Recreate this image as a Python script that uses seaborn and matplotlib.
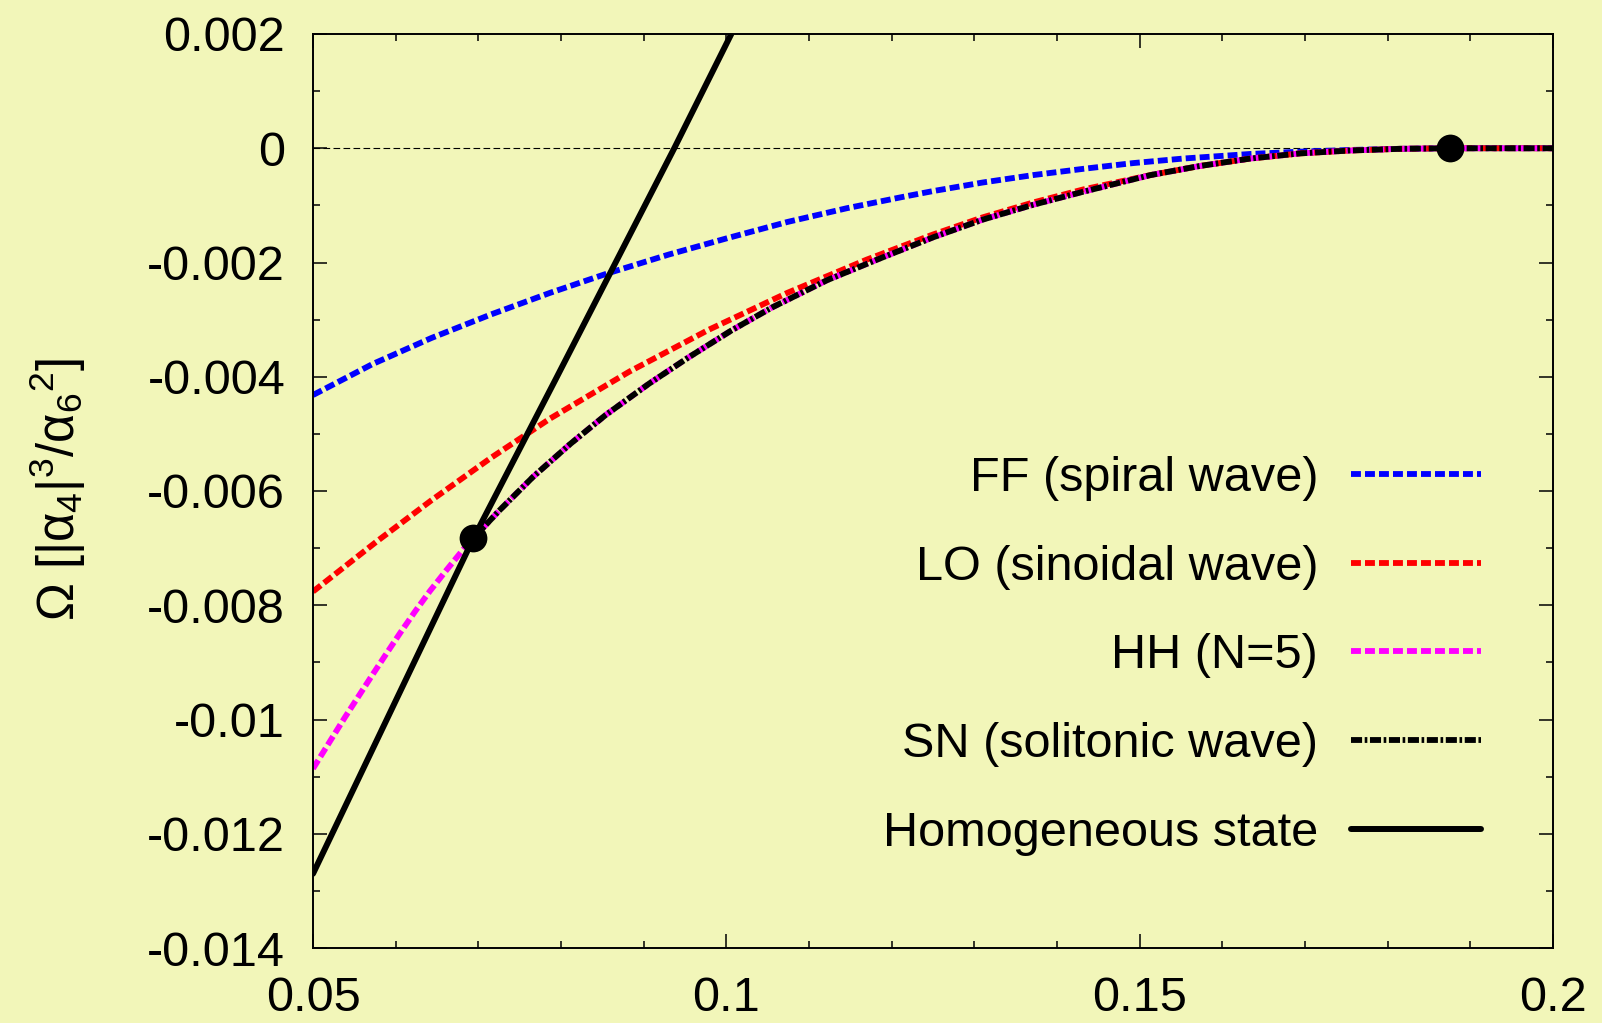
import numpy as np
import pandas as pd
import matplotlib
matplotlib.use("Agg")
import matplotlib.pyplot as plt
import seaborn as sns
from matplotlib.ticker import MultipleLocator, FuncFormatter

# ---------------- data ----------------
ff_x = [0.05, 0.05717, 0.06435, 0.07152, 0.0787, 0.08564, 0.09305, 0.10022, 0.1074,
        0.11457, 0.12175, 0.125, 0.131, 0.1371, 0.1432, 0.1492, 0.1553, 0.1634,
        0.1694, 0.1754, 0.1815, 0.1875, 0.2]
ff_y = [-0.00432, -0.00378, -0.00332, -0.00291, -0.00253, -0.00219, -0.00186, -0.00157, -0.00129,
        -0.00105, -0.00084, -0.00075, -0.0006, -0.00047, -0.00036, -0.00026, -0.00018, -0.0001,
        -0.00006, -0.00003, -0.00001, 0.0, 0.0]

lo_x = [0.05, 0.05765, 0.06435, 0.07152, 0.0787, 0.08827, 0.09783, 0.1074, 0.11697,
        0.125, 0.131, 0.1371, 0.1432, 0.1513, 0.1573, 0.1634, 0.1694, 0.1754, 0.1815,
        0.1875, 0.2]
lo_y = [-0.00776, -0.00689, -0.00616, -0.00542, -0.00473, -0.00391, -0.00318, -0.00253, -0.00195,
        -0.00151, -0.00121, -0.00095, -0.00072, -0.00047, -0.00031, -0.00018, -0.00009, -0.00004,
        -0.00001, 0.0, 0.0]

sn_x = [0.06937, 0.07248, 0.07664, 0.08109, 0.0854, 0.09066, 0.09544, 0.10061, 0.10549,
        0.11218, 0.1184, 0.125, 0.131, 0.1371, 0.1432, 0.1513, 0.1573, 0.1634, 0.1694,
        0.1754, 0.1815, 0.1875, 0.2]
sn_y = [-0.00683, -0.00635, -0.00575, -0.00518, -0.00467, -0.00412, -0.00366, -0.00319, -0.00279,
        -0.00231, -0.00194, -0.00156, -0.00125, -0.00099, -0.00076, -0.00047, -0.00031, -0.00018,
        -0.00009, -0.00004, -0.00001, 0.0, 0.0]

hh_x = [0.05, 0.05206, 0.05387, 0.05548, 0.05709, 0.05891, 0.06052, 0.06234, 0.06415,
        0.06617, 0.06819] + sn_x
hh_y = [-0.01086, -0.01038, -0.00996, -0.0096, -0.00924, -0.00884, -0.00849, -0.00811, -0.00775,
        -0.00738, -0.00702] + sn_y

hom_x = [0.05, 0.0694, 0.0793, 0.0937, 0.1006]
hom_y = [-0.0127, -0.00683, -0.00406, 0.0, 0.002]

dot_x = [0.06937, 0.1875]
dot_y = [-0.00683, 0.0]

labels = ["FF (spiral wave)", "LO (sinoidal wave)", "HH (N=5)",
          "SN (solitonic wave)", "Homogeneous state"]

# ---------------- style ----------------
BG = "#f2f6b9"
sns.set_theme(style="ticks")
plt.rcParams["font.family"] = ["Liberation Sans", "DejaVu Sans"]
plt.rcParams["mathtext.fontset"] = "custom"
plt.rcParams["mathtext.rm"] = "Liberation Sans"
plt.rcParams["mathtext.it"] = "Liberation Sans"
plt.rcParams["mathtext.bf"] = "Liberation Sans:bold"
plt.rcParams["axes.unicode_minus"] = False
for k in ["text.color", "axes.labelcolor", "xtick.color", "ytick.color", "axes.edgecolor"]:
    plt.rcParams[k] = "black"

FS = 35
fig = plt.figure(figsize=(16.02, 10.23), dpi=100, facecolor=BG)
ax = fig.add_axes([313 / 1602, 1 - 948 / 1023, 1240 / 1602, 914 / 1023])
ax.set_facecolor(BG)

LW = 4.2
ax.axhline(0, color="black", lw=0.8, linestyle=(0, (6, 3)), zorder=1)

DASH = (0, (1.7, 0.7))
series = [
    (ff_x, ff_y, "#0000ff", DASH, LW),
    (lo_x, lo_y, "#ff0000", DASH, LW),
    (hh_x, hh_y, "#ff00ff", DASH, LW),
    (sn_x, sn_y, "black", (0, (1.9, 0.45, 0.45, 0.45)), LW),
    (hom_x, hom_y, "black", "-", 4.3),
]
handles = []
for i, (xs, ys, c, ls, lw) in enumerate(series):
    df = pd.DataFrame({"x": xs, "y": ys})
    sns.lineplot(data=df, x="x", y="y", ax=ax, color=c, lw=lw, linestyle=ls,
                 errorbar=None, sort=True, estimator=None, zorder=2 + 0.1 * i,
                 legend=False)
    handles.append(ax.get_lines()[-1])

sns.scatterplot(x=dot_x, y=dot_y, ax=ax, color="black", s=400, linewidth=0,
                zorder=5, legend=False, clip_on=False)

ax.set_xlim(0.05, 0.2)
ax.set_ylim(-0.014, 0.002)
ax.xaxis.set_major_locator(MultipleLocator(0.05))
ax.xaxis.set_minor_locator(MultipleLocator(0.01))
ax.yaxis.set_major_locator(MultipleLocator(0.002))
ax.yaxis.set_minor_locator(MultipleLocator(0.001))
fmt = FuncFormatter(lambda v, p: "0" if abs(v) < 1e-12 else f"{v:g}")
ax.xaxis.set_major_formatter(fmt)
ax.yaxis.set_major_formatter(fmt)

ax.tick_params(which="both", direction="in", top=True, right=True,
               width=1.1, color="black", labelcolor="black", labelsize=FS)
ax.tick_params(which="major", length=10)
ax.tick_params(which="minor", length=5)
ax.tick_params(axis="y", which="major", pad=20)
ax.tick_params(axis="x", which="major", pad=20)
for s in ax.spines.values():
    s.set_visible(True)
    s.set_linewidth(1.4)
    s.set_color("black")

ax.set_xlabel("")
ax.set_ylabel(r"$\Omega$ [|$\alpha_4$|$^3$/$\alpha_6{}^2$]", fontsize=36.5, color="black")
ax.yaxis.set_label_coords(88 / 1602, 0.522, transform=fig.transFigure)

leg = ax.legend(handles, ["FF (spiral wave)", "LO (sinoidal wave)", "HH (N=5)",
                          "SN (solitonic wave)", "Homogeneous state"],
                loc="lower right",
                bbox_to_anchor=(1481 / 1602, 1 - 856 / 1023),
                bbox_transform=fig.transFigure, frameon=False, markerfirst=False,
                fontsize=FS, handlelength=2.67, handletextpad=0.68,
                labelspacing=0.9, borderpad=0, borderaxespad=0)
for t in leg.get_texts():
    t.set_color("black")

fig.savefig("out.png", dpi=100, facecolor=BG)
